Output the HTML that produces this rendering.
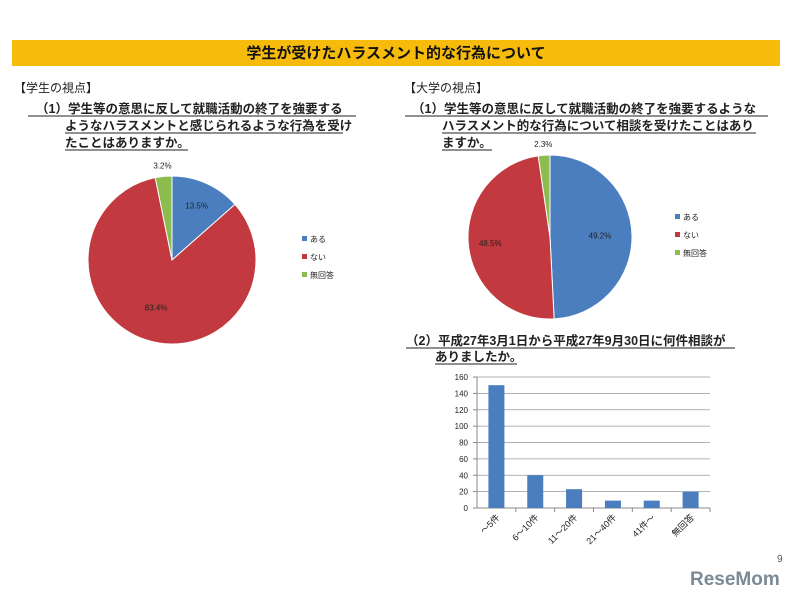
<!DOCTYPE html>
<html><head><meta charset="utf-8"><style>
body{margin:0;background:#fff;font-family:"Liberation Sans","Noto Sans CJK JP",sans-serif}
svg{display:block}
.q{font-size:12.5px;font-weight:bold;fill:#222}
.s{font-size:8px;fill:#222}
</style></head><body>
<svg id="c" width="798" height="600" viewBox="0 0 798 600" xmlns="http://www.w3.org/2000/svg" font-family="Liberation Sans, Noto Sans CJK JP, sans-serif">
<rect x="12" y="40" width="768" height="26" fill="#f6bb0b"/>
<text x="396" y="58" text-anchor="middle" font-size="15" font-weight="bold" fill="#111">学生が受けたハラスメント的な行為について</text>
<text x="14" y="92" font-size="12" fill="#222">【学生の視点】</text>
<g>
<text class="q" x="36" y="113">（1）学生等の意思に反して就職活動の終了を強要する</text>
<text class="q" x="65" y="130">ようなハラスメントと感じられるような行為を受け</text>
<text class="q" x="65" y="147">たことはありますか。</text>
<line x1="28" y1="116" x2="356" y2="116" stroke="#222"/>
<line x1="65" y1="133" x2="343" y2="133" stroke="#222"/>
<line x1="65" y1="150" x2="188" y2="150" stroke="#222"/>
</g>
<text x="404" y="92" font-size="12" fill="#222">【大学の視点】</text>
<g>
<text class="q" x="412" y="113">（1）学生等の意思に反して就職活動の終了を強要するような</text>
<text class="q" x="442" y="130">ハラスメント的な行為について相談を受けたことはあり</text>
<text class="q" x="442" y="147">ますか。</text>
<line x1="405" y1="116" x2="768" y2="116" stroke="#222"/>
<line x1="442" y1="133" x2="756" y2="133" stroke="#222"/>
<line x1="442" y1="150" x2="492" y2="150" stroke="#222"/>
</g>
<g>
<text class="q" x="406" y="345">（2）平成27年3月1日から平成27年9月30日に何件相談が</text>
<text class="q" x="435" y="361">ありましたか。</text>
<line x1="406" y1="348" x2="735" y2="348" stroke="#222"/>
<line x1="435" y1="364" x2="517" y2="364" stroke="#222"/>
</g>
<text x="777" y="562" font-size="10" fill="#555">9</text>
<text x="690" y="585" font-size="19" font-weight="bold" fill="#7a8a96">ReseMom</text>
<g id="pies"></g>
<g id="bars"></g>
</svg>
<script>
const pieLabels=["ある","ない","無回答"];
const pieColors=["#4a7ebf","#c2393f","#8cbb4e"];
const studentValues=[13.5,83.4,3.2];
const universityValues=[49.2,48.5,2.3];
const barCategories=["～5件","6～10件","11～20件","21～40件","41件～","無回答"];
const barValues=[150,40,23,9,9,20];
const yTicks=[0,20,40,60,80,100,120,140,160];
const NS="http://www.w3.org/2000/svg";
function mk(t,a,p){const e=document.createElementNS(NS,t);for(const k in a)e.setAttribute(k,a[k]);p.appendChild(e);return e;}
const pies=document.getElementById('pies');
function pie(vals,cx,cy,r,lx,ly,name,labelPos){
  const g=mk('g',{},pies);
  
  
  const tot=vals.reduce((a,b)=>a+b,0);let a0=-Math.PI/2;
  vals.forEach((v,i)=>{
    const a1=a0+v/tot*2*Math.PI;
    const large=(a1-a0)>Math.PI?1:0;
    const p=mk('path',{d:`M${cx},${cy}L${cx+r*Math.cos(a0)},${cy+r*Math.sin(a0)}A${r},${r} 0 ${large} 1 ${cx+r*Math.cos(a1)},${cy+r*Math.sin(a1)}Z`,fill:pieColors[i],stroke:'#fff','stroke-width':1},g);
    
    
    const am=(a0+a1)/2;const lr=labelPos[i];
    const t=mk('text',{x:cx+lr*Math.cos(am),y:cy+lr*Math.sin(am)+3,'text-anchor':'middle',class:'s'},g);
    t.textContent=v.toFixed(1)+'%';
    
    
    a0=a1;
  });
  pieLabels.forEach((l,i)=>{
    const le=mk('g',{},g);
    
    
    mk('rect',{x:lx,y:ly+i*18-5,width:5,height:5,fill:pieColors[i]},le);
    const t=mk('text',{x:lx+8,y:ly+i*18+1,class:'s'},le);t.textContent=l;
  });
}
pie(studentValues,172,260,84,302,241,'student-pie',[60,50,95]);
pie(universityValues,550,237,82,675,219,'university-pie',[50,60,93]);
const bars=document.getElementById('bars');


const X0=477,X1=710,Y0=508,Y1=377,ymax=160;
const y=v=>Y0-(v/ymax)*(Y0-Y1);
const bw=(X1-X0)/barCategories.length;
yTicks.forEach(t=>{
  if(t>0)mk('line',{x1:X0,y1:y(t),x2:X1,y2:y(t),stroke:'#999','stroke-width':0.8},bars);
  mk('line',{x1:X0-4,y1:y(t),x2:X0,y2:y(t),stroke:'#888'},bars);
  const tx=mk('text',{x:X0-9,y:y(t)+3,'text-anchor':'end','font-size':8,fill:'#222'},bars);tx.textContent=t;
  
  
});
mk('line',{x1:X0,y1:Y1,x2:X0,y2:Y0,stroke:'#888'},bars);
mk('line',{x1:X0,y1:Y0,x2:X1,y2:Y0,stroke:'#888'},bars);
barCategories.forEach((c,i)=>{
  const cx=X0+bw*(i+0.5);
  const r=mk('rect',{x:cx-8,y:y(barValues[i]),width:16,height:Y0-y(barValues[i]),fill:'#4a7ebf'},bars);
  
  
  mk('line',{x1:X0+bw*(i+1),y1:Y0,x2:X0+bw*(i+1),y2:Y0+4,stroke:'#888'},bars);
  const t=mk('text',{x:cx+4,y:Y0+10,'text-anchor':'end','font-size':9,fill:'#222',transform:`rotate(-45 ${cx+4} ${Y0+10})`},bars);
  t.textContent=c;
  
  
});
</script>
</body></html>
